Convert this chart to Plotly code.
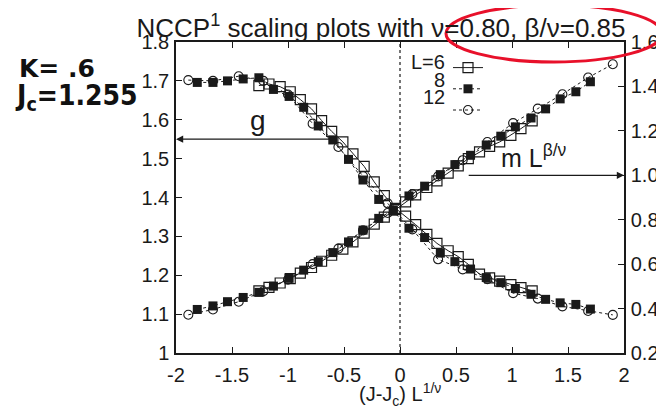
import plotly.graph_objects as go

# ---- data ----
x_L6 = [-1.26, -1.17, -1.07, -0.98, -0.89, -0.79, -0.70, -0.61, -0.51, -0.42, -0.32, -0.23, -0.14, -0.04,
        0.05, 0.14, 0.24, 0.33, 0.43, 0.52, 0.61, 0.71, 0.80, 0.89, 0.99, 1.08, 1.18]
x_L8 = [-1.81, -1.67, -1.54, -1.40, -1.26, -1.13, -0.99, -0.86, -0.73, -0.60, -0.46, -0.33, -0.19, -0.06,
        0.08, 0.22, 0.36, 0.49, 0.63, 0.77, 0.90, 1.03, 1.17, 1.30, 1.43, 1.57, 1.70]
x_L12 = [-1.89, -1.67, -1.44, -1.22, -1.00, -0.78, -0.55, -0.33, -0.11,
         0.11, 0.34, 0.56, 0.78, 1.01, 1.23, 1.45, 1.68, 1.90]

# g (left axis)
g_L6 = [1.688, 1.692, 1.685, 1.672, 1.652, 1.628, 1.598, 1.570, 1.543, 1.512, 1.480, 1.440, 1.405, 1.372,
        1.352, 1.330, 1.305, 1.282, 1.263, 1.248, 1.228, 1.203, 1.193, 1.185, 1.176, 1.168, 1.160]
g_L8 = [1.696, 1.696, 1.700, 1.705, 1.708, 1.678, 1.660, 1.632, 1.584, 1.548, 1.498, 1.445, 1.395, 1.365,
        1.321, 1.297, 1.257, 1.235, 1.216, 1.194, 1.181, 1.166, 1.151, 1.138, 1.129, 1.125, 1.113]
g_L12 = [1.702, 1.700, 1.712, 1.700, 1.665, 1.590, 1.530, 1.455, 1.385,
         1.318, 1.241, 1.215, 1.190, 1.154, 1.140, 1.120, 1.108, 1.098]

# m L^(beta/nu) (right axis)
m_L6 = [0.480, 0.495, 0.515, 0.535, 0.560, 0.585, 0.613, 0.640, 0.668, 0.700, 0.740, 0.780, 0.812, 0.845,
        0.880, 0.912, 0.945, 0.975, 1.010, 1.042, 1.075, 1.105, 1.130, 1.150, 1.180, 1.210, 1.245]
m_L8 = [0.396, 0.412, 0.431, 0.450, 0.473, 0.501, 0.536, 0.573, 0.611, 0.652, 0.700, 0.753, 0.806, 0.844,
        0.907, 0.951, 1.003, 1.048, 1.090, 1.136, 1.176, 1.218, 1.258, 1.299, 1.344, 1.376, 1.421]
m_L12 = [0.372, 0.396, 0.431, 0.478, 0.530, 0.600, 0.670, 0.752, 0.830,
         0.915, 0.995, 1.068, 1.150, 1.235, 1.300, 1.365, 1.440, 1.500]

series_names = ["L=6", "8", "12"]
x_ticks = [-2, -1.5, -1, -0.5, 0, 0.5, 1, 1.5, 2]
x_tick_text = ["-2", "-1.5", "-1", "-0.5", "0", "0.5", "1", "1.5", "2"]
y_ticks = [1, 1.1, 1.2, 1.3, 1.4, 1.5, 1.6, 1.7, 1.8]
y_tick_text = ["1", "1.1", "1.2", "1.3", "1.4", "1.5", "1.6", "1.7", "1.8"]
y2_ticks = [0.2, 0.4, 0.6, 0.8, 1.0, 1.2, 1.4, 1.6]
y2_tick_text = ["0.2", "0.4", "0.6", "0.8", "1.0", "1.2", "1.4", "1.6"]

FONT = "Liberation Sans, Arial, sans-serif"
INK = "#1a1a1a"

styles = {
    "L=6": dict(line=dict(color=INK, width=1, dash="solid"),
                marker=dict(symbol="square-open", size=10, color=INK, line=dict(width=1.2, color=INK))),
    "8": dict(line=dict(color=INK, width=1, dash="3px,3px"),
              marker=dict(symbol="square", size=9, color=INK)),
    "12": dict(line=dict(color=INK, width=1, dash="dot"),
               marker=dict(symbol="circle-open", size=9, color=INK, line=dict(width=1.1, color=INK))),
}

fig = go.Figure()
series_g = [(series_names[0], x_L6, g_L6), (series_names[1], x_L8, g_L8), (series_names[2], x_L12, g_L12)]
series_m = [(series_names[0], x_L6, m_L6), (series_names[1], x_L8, m_L8), (series_names[2], x_L12, m_L12)]

for name, xs, ys in series_g:
    fig.add_trace(go.Scatter(x=xs, y=ys, mode="lines+markers", name=" ", legendgroup=name,
                             showlegend=True, yaxis="y", **styles[name]))
for name, xs, ys in series_m:
    fig.add_trace(go.Scatter(x=xs, y=ys, mode="lines+markers", name=" ", legendgroup=name,
                             showlegend=False, yaxis="y2", **styles[name]))

# The page body adds an 8px offset; the figure is sized so that it fills the 664x409 window.
OFF = 8
W, H = 664 - OFF, 409 - OFF
PL, PR, PT, PB = 176, 624, 42, 353   # plot-area edges in window pixels
L_M, T_M = PL - OFF, PT - OFF
R_M = W - (PR - OFF)
B_M = H - (PB - OFF)
pw = PR - PL
ph = PB - PT

def px(xp):
    return (xp - PL) / pw

def py(yp):
    return (PB - yp) / ph

axis_common = dict(ticks="inside", ticklen=6, tickcolor=INK, tickwidth=1.2,
                   showline=True, linecolor=INK, linewidth=1.5, showgrid=False, zeroline=False,
                   tickfont=dict(size=20, family=FONT, color=INK), automargin=False)

fig.update_layout(
    width=W, height=H,
    margin=dict(l=L_M, r=R_M, t=T_M, b=B_M, autoexpand=False),
    paper_bgcolor="white", plot_bgcolor="white",
    font=dict(family=FONT, color=INK, size=18),
    title=dict(text="NCCP<sup>1</sup> scaling plots with ν=0.80, β/ν=0.85",
               x=(381 - OFF) / W, xanchor="center", xref="container",
               y=1 - (28 - OFF) / H, yanchor="middle", yref="container",
               font=dict(family=FONT, size=26, color=INK)),
    xaxis=dict(range=[-2, 2], tickvals=x_ticks, ticktext=x_tick_text, mirror="ticks",
               ticklabelstandoff=3, **axis_common),
    yaxis=dict(range=[1, 1.8], tickvals=y_ticks, ticktext=y_tick_text,
               ticklabelstandoff=1, **axis_common),
    yaxis2=dict(range=[0.2, 1.6], tickvals=y2_ticks, ticktext=y2_tick_text,
                overlaying="y", side="right", ticklabelstandoff=1, **axis_common),
    legend=dict(x=px(448), y=py(52), xanchor="left", yanchor="top",
                bgcolor="rgba(0,0,0,0)", borderwidth=0, font=dict(size=14),
                itemwidth=30, tracegroupgap=0, traceorder="normal"),
    showlegend=True,
)

# x-axis title
fig.add_annotation(x=0.5, y=py(394), xref="paper", yref="paper",
                   text="(J-J<sub>c</sub>) L<sup>1/ν</sup>", showarrow=False,
                   xanchor="center", yanchor="middle", font=dict(size=20, family=FONT, color=INK))

# legend labels (text left of the key, as in the reference)
for lab, yy in zip(series_names, [62, 80, 97]):
    fig.add_annotation(x=px(447), y=py(yy), xref="paper", yref="paper", text=lab,
                       showarrow=False, xanchor="right", yanchor="middle",
                       font=dict(size=20, family=FONT, color=INK))

# vertical dotted line at x = 0
fig.add_shape(type="line", xref="x", yref="paper", x0=0, x1=0, y0=0, y1=1,
              line=dict(color=INK, width=1.2, dash="dot"))

# arrows
fig.add_annotation(x=-2, y=1.55, ax=-0.62, ay=1.55, xref="x", yref="y", axref="x", ayref="y",
                   text="", showarrow=True, arrowhead=2, arrowsize=1.2, arrowwidth=1.2, arrowcolor=INK)
fig.add_annotation(x=-1.27, y=1.553, xref="x", yref="y", text="g", showarrow=False,
                   yanchor="bottom", font=dict(size=28, family=FONT, color=INK))
fig.add_annotation(x=2, y=1.0, ax=0.6, ay=1.0, xref="x", yref="y2", axref="x", ayref="y2",
                   text="", showarrow=True, arrowhead=2, arrowsize=1.2, arrowwidth=1.2, arrowcolor=INK)
fig.add_annotation(x=1.2, y=1.005, xref="x", yref="y2", text="m L<sup>β/ν</sup>", showarrow=False,
                   yanchor="bottom", font=dict(size=25, family=FONT, color=INK))

# handwritten notes
fig.add_annotation(x=px(17), y=py(68), xref="paper", yref="paper", text="<b>K= .6</b>",
                   showarrow=False, xanchor="left", yanchor="middle",
                   font=dict(size=25, family="DejaVu Sans, sans-serif", color="#111"))
fig.add_annotation(x=px(13), y=py(97), xref="paper", yref="paper", text="<b>J<sub>c</sub>=1.255</b>",
                   showarrow=False, xanchor="left", yanchor="middle",
                   font=dict(size=28, family="DejaVu Sans Condensed, DejaVu Sans, sans-serif", color="#111"))

# red marker-pen ellipse and stroke
fig.add_shape(type="circle", xref="paper", yref="paper",
              x0=px(446), x1=px(662), y0=py(62), y1=py(5),
              line=dict(color="#e8102a", width=3))
fig.add_shape(type="path", xref="paper", yref="paper",
              path=f"M {px(186)} {py(3)} Q {px(380)} {py(-1)} {px(560)} {py(2)}",
              line=dict(color="#e8102a", width=3))

fig.write_html("out.html")
